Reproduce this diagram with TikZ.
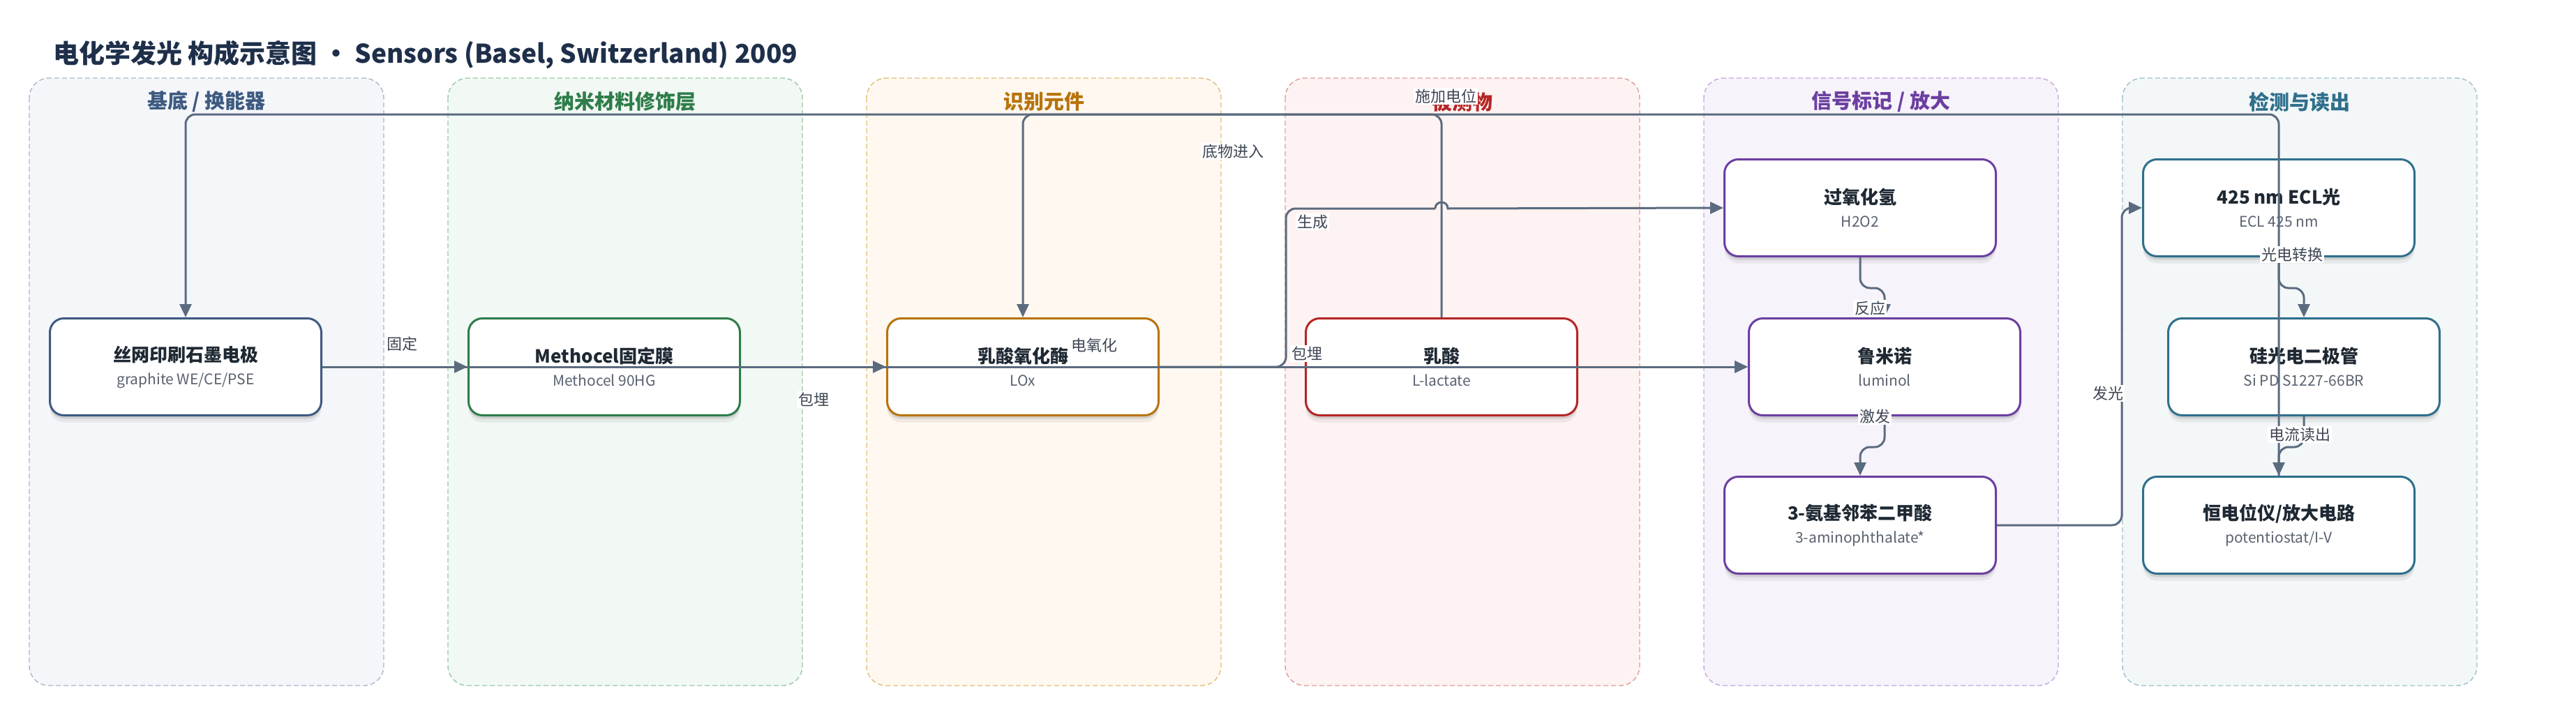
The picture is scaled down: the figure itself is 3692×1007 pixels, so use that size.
\documentclass[tikz,border=0pt]{standalone}
\usepackage{fontspec}
\setmainfont{Noto Sans CJK SC}
\usetikzlibrary{arrows.meta,shadows,calc}
\definecolor{ink}{HTML}{1F2933}
\definecolor{titlec}{HTML}{1E2F4A}
\definecolor{subc}{HTML}{5A6270}
\definecolor{edgec}{HTML}{5B6B7F}
\definecolor{lblc}{HTML}{3D4653}
\definecolor{cA}{HTML}{3E5A80}\definecolor{fA}{HTML}{F4F6FA}\definecolor{bA}{HTML}{A9B6CB}
\definecolor{cB}{HTML}{2E7D4A}\definecolor{fB}{HTML}{F2F8F3}\definecolor{bB}{HTML}{9AC8A8}
\definecolor{cC}{HTML}{B8740A}\definecolor{fC}{HTML}{FEF8F0}\definecolor{bC}{HTML}{E4BC76}
\definecolor{cD}{HTML}{B52626}\definecolor{fD}{HTML}{FDF3F2}\definecolor{bD}{HTML}{E39B98}
\definecolor{cE}{HTML}{6B3FA0}\definecolor{fE}{HTML}{F7F3FB}\definecolor{bE}{HTML}{C4A8DE}
\definecolor{cF}{HTML}{2F6F8C}\definecolor{fF}{HTML}{F3F7F8}\definecolor{bF}{HTML}{9CC0CC}
\newcommand{\bx}[2]{{\bfseries #1}\\{\color{subc}\fontsize{21}{33}\selectfont #2}}
\begin{document}
\begin{tikzpicture}[x=1pt,y=-1pt,
  lane/.style={line width=1.4pt, dash pattern=on 7pt off 4pt, rounded corners=28pt},
  lanehead/.style={font=\bfseries\fontsize{29}{34}\selectfont},
  box/.style={rectangle, rounded corners=20pt, draw, line width=3pt, fill=white,
    minimum width=389pt, minimum height=139pt, align=center, text=ink,
    font=\fontsize{26}{33}\selectfont,
    drop shadow={shadow xshift=0pt, shadow yshift=-5pt, opacity=0.10, fill=black},
    drop shadow={shadow xshift=0pt, shadow yshift=-10pt, opacity=0.06, fill=black}},
  edge/.style={draw=edgec, line width=3pt, -{Triangle[length=19pt,width=17pt]}, rounded corners=14pt},
  lbl/.style={fill=white, inner sep=2pt, text=lblc, font=\fontsize{22}{26}\selectfont}]
\useasboundingbox (0,0) rectangle (3692,1007);
\fill[white] (0,0) rectangle (3692,1007);

% title
\node[anchor=base west, text=titlec, font=\bfseries\fontsize{37}{42}\selectfont, inner sep=0pt] (title) at (76,90) {电化学发光 构成示意图 · Sensors (Basel, Switzerland) 2009};

% lanes
\path[lane, draw=bA, fill=fA] (42,112) rectangle (550,983);
\path[lane, draw=bB, fill=fB] (642,112) rectangle (1150,983);
\path[lane, draw=bC, fill=fC] (1242,112) rectangle (1750,983);
\path[lane, draw=bD, fill=fD] (1842,112) rectangle (2350,983);
\path[lane, draw=bE, fill=fE] (2442,112) rectangle (2950,983);
\path[lane, draw=bF, fill=fF] (3042,112) rectangle (3550,983);
\node[lanehead, text=cA] (h1) at (296,146) {基底 / 换能器};
\node[lanehead, text=cB] (h2) at (896,146) {纳米材料修饰层};
\node[lanehead, text=cC] (h3) at (1496,146) {识别元件};
\node[lanehead, text=cD] (h4) at (2096,146) {被测物};
\node[lanehead, text=cE] (h5) at (2696,146) {信号标记 / 放大};
\node[lanehead, text=cF] (h6) at (3296,146) {检测与读出};

% nodes
\node[box, draw=cA] (n1) at (266,526) {\bx{丝网印刷石墨电极}{graphite WE/CE/PSE}};
\node[box, draw=cB] (n2) at (866,526) {\bx{Methocel固定膜}{Methocel 90HG}};
\node[box, draw=cC] (n3) at (1466,526) {\bx{乳酸氧化酶}{LOx}};
\node[box, draw=cD] (n4) at (2066,526) {\bx{乳酸}{L-lactate}};
\node[box, draw=cE] (h2o2) at (2666,298) {\bx{过氧化氢}{H2O2}};
\node[box, draw=cE] (lum) at (2701,526) {\bx{鲁米诺}{luminol}};
\node[box, draw=cE] (amino) at (2666,753) {\bx{3-氨基邻苯二甲酸}{3-aminophthalate*}};
\node[box, draw=cF] (ecl) at (3266,298) {\bx{425 nm ECL光}{ECL 425 nm}};
\node[box, draw=cF] (sipd) at (3302,526) {\bx{硅光电二极管}{Si PD S1227-66BR}};
\node[box, draw=cF] (pot) at (3266,753) {\bx{恒电位仪/放大电路}{potentiostat/I-V}};

% helper coordinates
\coordinate (topy) at (0,164);
\coordinate (g1) at (1843,299);
\coordinate (hopA) at (2057,299);
\coordinate (hopB) at (2075,299);
\coordinate (g2) at (3041,0);

% edges
\draw[edge] (n1.east) -- (n2.west);
\draw[edge] (n2.east) -- (n3.west);
\draw[edge] (n1.east) -- (lum.west);
\draw[edge] (n2.east) -- (lum.west);
\draw[edge,-] (n3.east) -- (n3.east -| g1) -- (g1) -- (hopA);
\draw[edge, sharp corners] (hopA) .. controls (2057,287) and (2075,287) .. (hopB) -- (h2o2.west);
\draw[edge] (n4.north) -- (n4.north |- topy) -- (n3.north |- topy) -- (n3.north);
\draw[edge] (pot.north) -- (pot.north |- topy) -- (n1.north |- topy) -- (n1.north);
\draw[edge] (amino.east) -- (amino.east -| g2) -- (g2 |- ecl.west) -- (ecl.west);
\draw[edge] (h2o2.south) -- ++(0,44) -| (lum.north);
\draw[edge] (lum.south) -- ++(0,44) -| (amino.north);
\draw[edge] (ecl.south) -- ++(0,44) -| (sipd.north);
\draw[edge] (sipd.south) -- ++(0,44) -| (pot.north);

% edge labels
\node[lbl] (l1) at (576,493) {固定};
\node[lbl] (l2) at (1166,573) {包埋};
\node[lbl] (l3) at (1568,495) {电氧化};
\node[lbl] (l4) at (1873,507) {包埋};
\node[lbl] (l5) at (1767,217) {底物进入};
\node[lbl] (l6) at (2072,138) {施加电位};
\node[lbl] (l7) at (1881,318) {生成};
\node[lbl] (l8) at (2680,442) {反应};
\node[lbl] (l9) at (2687,597) {激发};
\node[lbl] (l10) at (3285,365) {光电转换};
\node[lbl] (l11) at (3296,623) {电流读出};
\node[lbl] (l12) at (3021,564) {发光};
\end{tikzpicture}
\end{document}
